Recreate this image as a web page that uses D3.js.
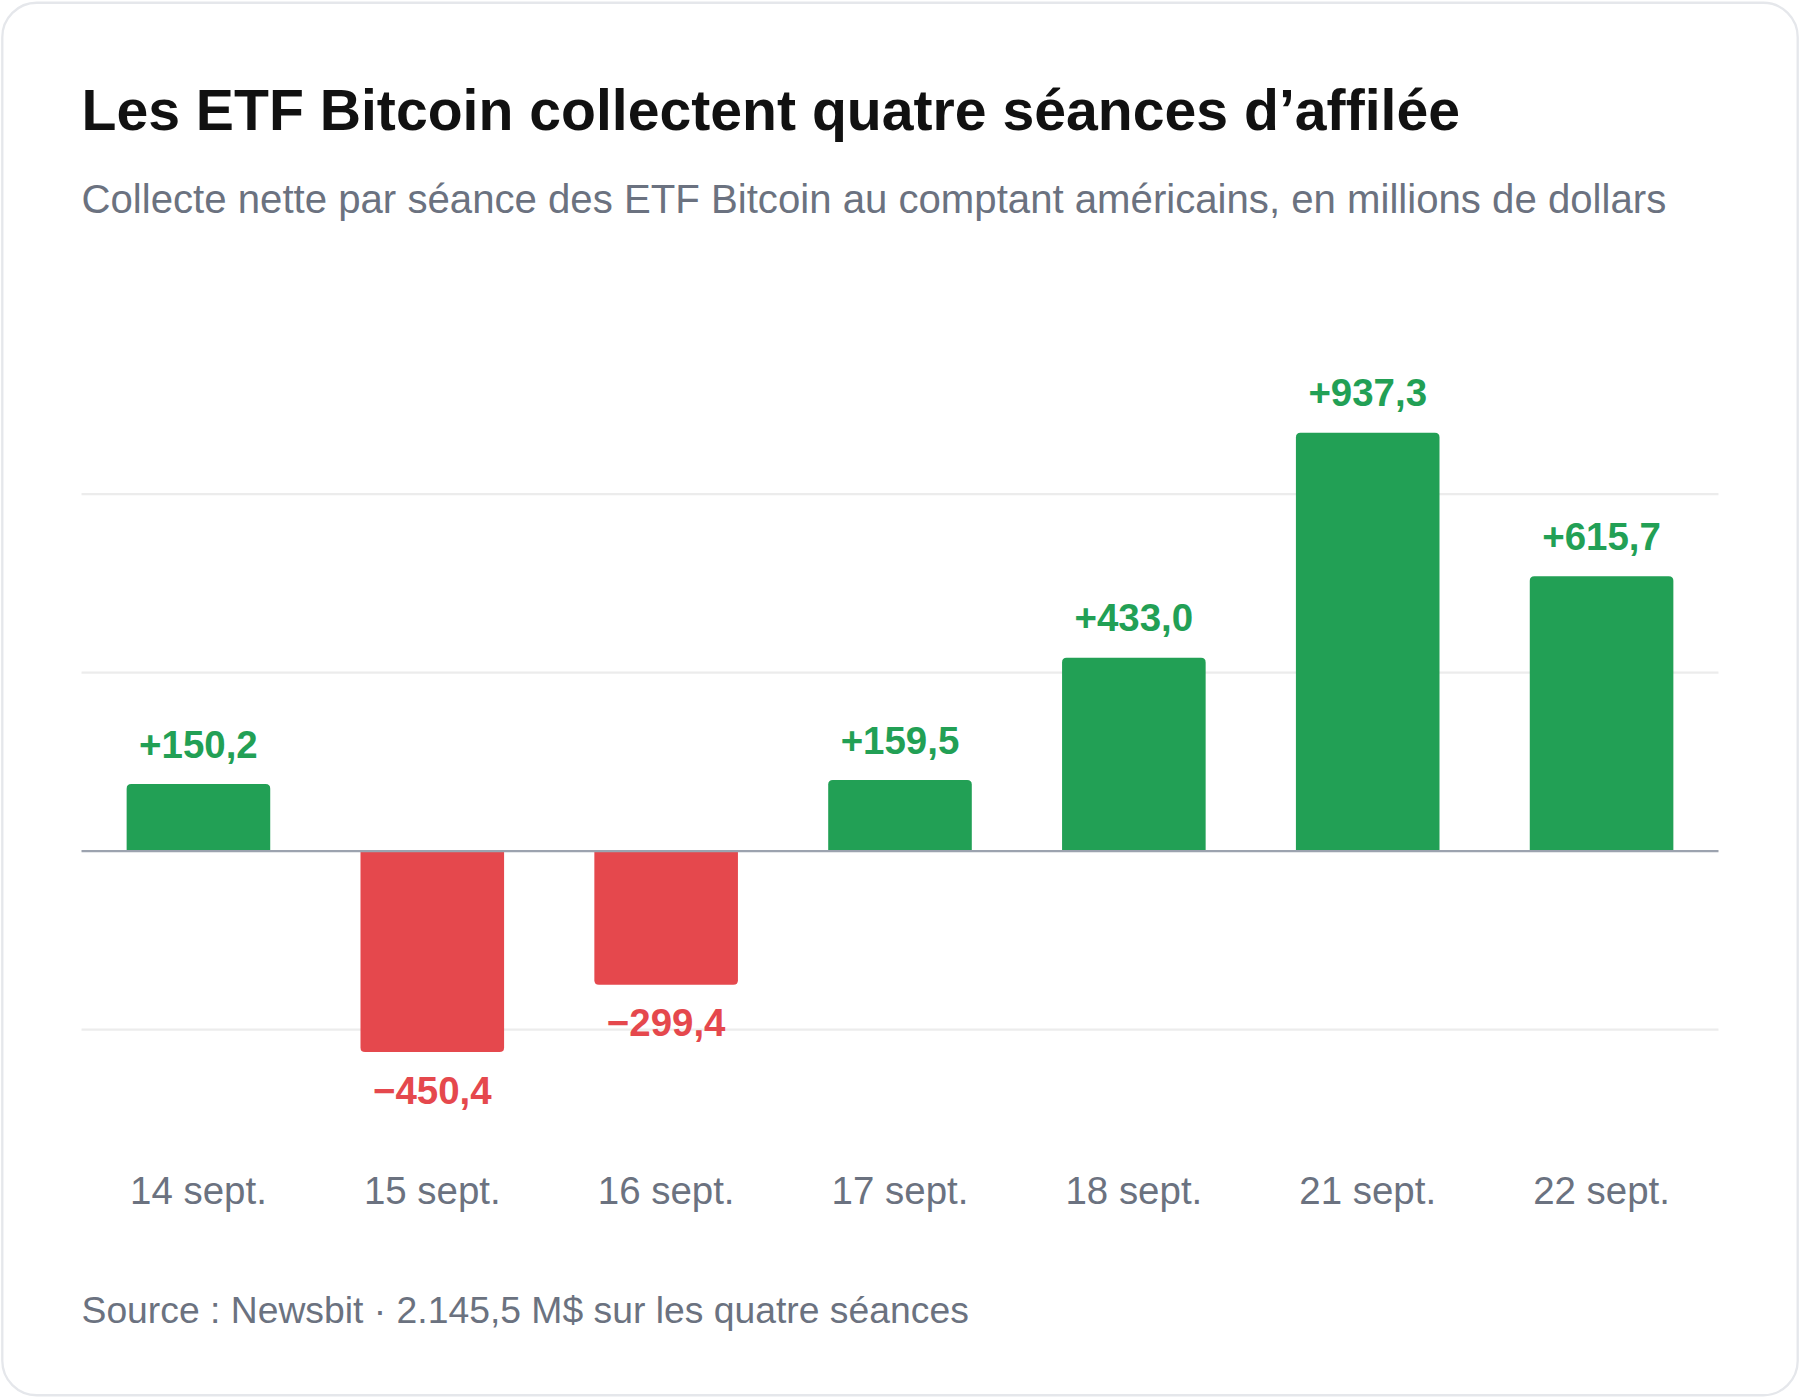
<!DOCTYPE html>
<html><head><meta charset="utf-8">
<script src="https://cdn.jsdelivr.net/npm/d3@7"></script>
<style>body{margin:0;background:#fff}svg{display:block;font-family:"Liberation Sans",Arial,sans-serif}</style>
</head><body>
<svg id="c" width="1800" height="1398" viewBox="0 0 1568 1217"></svg>
<script>
const categories = ["14 sept.","15 sept.","16 sept.","17 sept.","18 sept.","21 sept.","22 sept."];
const values = [150.2,-450.4,-299.4,159.5,433.0,937.3,615.7];
const labels = ["+150,2","\u2212450,4","\u2212299,4","+159,5","+433,0","+937,3","+615,7"];
const gridTicks = [-400,400,800];

const svg = d3.select("#c");
svg.append("rect").attr("x",2).attr("y",2).attr("width",1564).attr("height",1213).attr("rx",30)
  .attr("fill","#fff").attr("stroke","#e5e7eb").attr("stroke-width",2);
svg.append("text").attr("x",71).attr("y",113).attr("font-size",49.8).attr("font-weight",700).attr("fill","#111")
  .text("Les ETF Bitcoin collectent quatre séances d’affilée");
svg.append("text").attr("x",71).attr("y",185).attr("font-size",35).attr("fill","#6b7280")
  .text("Collecte nette par séance des ETF Bitcoin au comptant américains, en millions de dollars");

const x = d3.scaleBand().domain(categories).range([71,1497]).paddingInner(0.386).paddingOuter(0.193);
const y = d3.scaleLinear().domain([0,400]).range([741,585.5]);
const green="#22a055", red="#e5484d";

svg.append("g").selectAll("line").data(gridTicks).join("line")
  .attr("x1",71).attr("x2",1497).attr("y1",d=>y(d)).attr("y2",d=>y(d))
  .attr("stroke","#ececec").attr("stroke-width",2);

svg.append("g").selectAll("path").data(values).join("path")
  .attr("fill",d=>d>=0?green:red)
  .attr("d",(d,i)=>{
    const x0=x(categories[i]), w=x.bandwidth(), y0=y(0), y1=y(d), r=4;
    if(d>=0) return `M${x0},${y0}V${y1+r}Q${x0},${y1} ${x0+r},${y1}H${x0+w-r}Q${x0+w},${y1} ${x0+w},${y1+r}V${y0}Z`;
    return `M${x0},${y0}V${y1-r}Q${x0},${y1} ${x0+r},${y1}H${x0+w-r}Q${x0+w},${y1} ${x0+w},${y1-r}V${y0}Z`;
  });

svg.append("line").attr("x1",71).attr("x2",1497).attr("y1",y(0)).attr("y2",y(0))
  .attr("stroke","#9ca3af").attr("stroke-width",2);

svg.append("g").selectAll("text").data(values).join("text")
  .attr("x",(d,i)=>x(categories[i])+x.bandwidth()/2)
  .attr("y",d=>d>=0?y(d)-23:y(d)+45)
  .attr("text-anchor","middle").attr("font-size",33.5).attr("font-weight",700)
  .attr("fill",d=>d>=0?green:red).text((d,i)=>labels[i]);

svg.append("g").selectAll("text").data(categories).join("text")
  .attr("x",d=>x(d)+x.bandwidth()/2).attr("y",1048).attr("text-anchor","middle")
  .attr("font-size",33.5).attr("fill","#6b7280").text(d=>d);

svg.append("text").attr("x",71).attr("y",1152).attr("font-size",32.5).attr("fill","#6b7280")
  .text("Source : Newsbit · 2.145,5 M$ sur les quatre séances");
</script>
</body></html>
